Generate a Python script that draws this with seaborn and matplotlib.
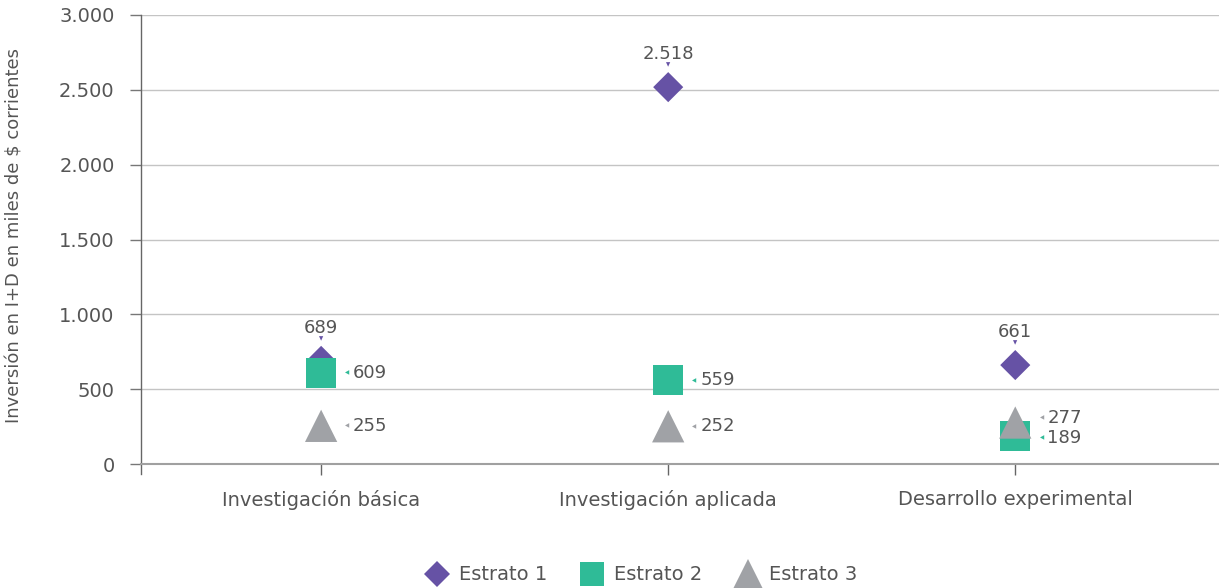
import seaborn as sns
import matplotlib
matplotlib.use("Agg")
import matplotlib.pyplot as plt
import pandas as pd
from matplotlib.ticker import FuncFormatter, FixedLocator
from matplotlib.lines import Line2D

categories = ["Investigación básica", "Investigación aplicada", "Desarrollo experimental"]
series = ["Estrato 1", "Estrato 2", "Estrato 3"]
estrato1 = [689, 2518, 661]
estrato2 = [609, 559, 189]
estrato3 = [255, 252, 277]
y_ticks = [0, 500, 1000, 1500, 2000, 2500, 3000]
y_label = "Inversión en I+D en miles de $ corrientes"

colors = {"Estrato 1": "#6652a5", "Estrato 2": "#2fbb97", "Estrato 3": "#a0a2a6"}
markers = {"Estrato 1": "D", "Estrato 2": "s", "Estrato 3": "^"}
msizes = {"Estrato 1": 235, "Estrato 2": 470, "Estrato 3": 540}
leg_sizes = {"Estrato 1": 13, "Estrato 2": 17, "Estrato 3": 21}

rows = []
for s, vals in zip(series, [estrato1, estrato2, estrato3]):
    for c, v in zip(categories, vals):
        rows.append({"cat": c, "val": v, "serie": s})
df = pd.DataFrame(rows)

sns.set_theme(style="white")
plt.rcParams["font.family"] = ["DejaVu Sans"]
text_color = "#555555"

W, H = 1219, 588
fig = plt.figure(figsize=(W / 100, H / 100), dpi=100)
ax = fig.add_axes([141 / W, (H - 464) / H, 1 - 141 / W, (464 - 15) / H])

sns.scatterplot(data=df, x="cat", y="val", hue="serie", style="serie", size="serie",
                sizes=msizes, markers=markers, palette=colors, linewidth=0,
                ax=ax, legend=False, zorder=3)

ax.set_ylim(0, 3000)
ax.set_xlim(-0.519, 2.587)
ax.yaxis.set_major_locator(FixedLocator(y_ticks))
ax.yaxis.set_major_formatter(FuncFormatter(lambda v, p: f"{int(v):,}".replace(",", ".")))
ax.grid(axis="y", color="#c4c4c4", linewidth=1)
ax.set_axisbelow(True)
for sp in ["top", "right"]:
    ax.spines[sp].set_visible(False)
ax.spines["left"].set_color("#666666")
ax.spines["left"].set_linewidth(1)
ax.spines["left"].set_bounds(-67, 3000)
ax.spines["bottom"].set_color("#a0a0a0")
ax.spines["bottom"].set_linewidth(1.5)
ax.tick_params(axis="y", length=8, width=1, color="#777777", pad=11,
               labelsize=14, labelcolor=text_color, left=True)
ax.tick_params(axis="x", length=8, width=1, color="#666666", pad=11,
               labelsize=14, labelcolor=text_color, bottom=True)
ax.set_xlabel("")
ax.set_ylabel(y_label, fontsize=13, color=text_color)
ax.yaxis.set_label_coords(-0.109, 0.51)

def fmt(v):
    return f"{v:,}".replace(",", ".")

px_per_unit = (464 - 15) / 3000.0

# labels above (Estrato 1)
for i, v in enumerate(estrato1):
    ax.annotate(fmt(v), (i, v), xytext=(0, 24), textcoords="offset points",
                ha="center", va="center", fontsize=13, color=text_color)
    ax.annotate("▼", (i, v), xytext=(0, 16), textcoords="offset points",
                ha="center", va="center", fontsize=4, color=colors["Estrato 1"])

# labels to the right (Estrato 2 and 3), spread apart when too close
min_gap_px = 20
for i in range(len(categories)):
    items = [(estrato2[i], "Estrato 2"), (estrato3[i], "Estrato 3")]
    items.sort(key=lambda t: t[0])
    offs = [0.0, 0.0]
    d = (items[1][0] - items[0][0]) * px_per_unit
    if d < min_gap_px:
        extra = min_gap_px - d
        offs = [-extra * 0.35, extra * 0.65]
    for (v, s), o in zip(items, offs):
        dy = o * 72 / 100
        ax.annotate(fmt(v), (i, v), xytext=(23, dy), textcoords="offset points",
                    ha="left", va="center", fontsize=13, color=text_color)
        ax.annotate("◀", (i, v), xytext=(19, dy), textcoords="offset points",
                    ha="center", va="center", fontsize=4, color=colors[s])

# legend
handles = [Line2D([], [], linestyle="none", marker=markers[s], color=colors[s],
                  markersize=leg_sizes[s], markeredgewidth=0) for s in series]
fig.legend(handles, series, loc="center", bbox_to_anchor=(0.525, (H - 575) / H),
           ncol=3, frameon=False, fontsize=14, labelcolor=text_color,
           handletextpad=0.35, columnspacing=1.6, handlelength=1.5)

fig.savefig("out.png", dpi=100)
